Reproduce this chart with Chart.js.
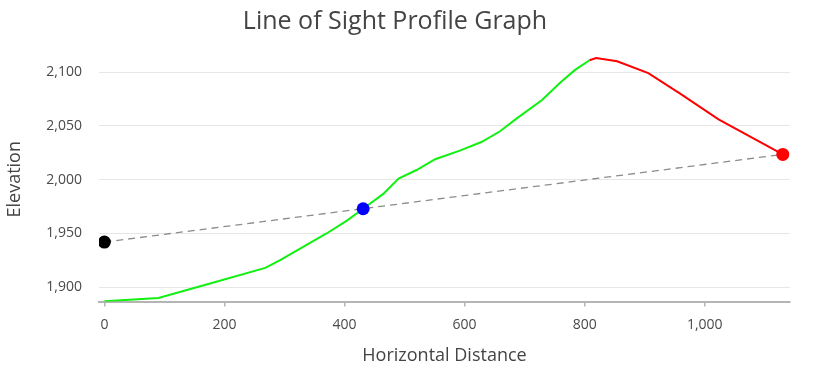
<!DOCTYPE html>
<html>
<head>
<meta charset="utf-8">
<script src="https://cdn.jsdelivr.net/npm/chart.js@4/dist/chart.umd.min.js"></script>
<style>
  html, body { margin: 0; padding: 0; background: #fff; }
  #wrap { width: 814px; height: 368px; position: relative; }
</style>
</head>
<body>
<div id="wrap"><canvas id="c"></canvas></div>
<script>
// Visible (green) part of the terrain profile
const visibleDistance  = [0, 90, 179, 268, 292, 326, 370, 404, 431, 465, 490, 520, 551, 592, 628, 659, 687, 729, 759, 784, 808];
const visibleElevation = [1887, 1890, 1904, 1918, 1925, 1936, 1950, 1962, 1973, 1987, 2001, 2009, 2019, 2027, 2035, 2045, 2057, 2074, 2090, 2102, 2111];
// Hidden (red) part of the terrain profile
const hiddenDistance  = [808, 819, 854, 906, 959, 1023, 1130];
const hiddenElevation = [2111, 2113, 2110, 2099, 2080, 2056, 2023.5];
// Observer, intersection and target
const observer = [0, 1942];
const intersection = [431, 1973];
const target = [1130, 2023.5];
const xTicks = [0, 200, 400, 600, 800, 1000];
const yTicks = [1900, 1950, 2000, 2050, 2100];

const toXY = (xs, ys) => xs.map((x, i) => ({x: x, y: ys[i]}));
const FONT = "'Open Sans', 'Noto Sans', sans-serif";

new Chart(document.getElementById('c'), {
  type: 'scatter',
  data: {
    datasets: [
      { data: [{x: observer[0], y: observer[1]}], pointRadius: 6.5, backgroundColor: '#000000', borderWidth: 0, pointHoverRadius: 6.5 },
      { data: [{x: intersection[0], y: intersection[1]}], pointRadius: 6.5, backgroundColor: '#0000ff', borderWidth: 0, pointHoverRadius: 6.5 },
      { data: [{x: target[0], y: target[1]}], pointRadius: 6.5, backgroundColor: '#ff0000', borderWidth: 0, pointHoverRadius: 6.5 },
      { data: [{x: observer[0], y: observer[1]}, {x: target[0], y: target[1]}], showLine: true, pointRadius: 0,
        borderColor: '#8c8c8c', borderWidth: 1.3, borderDash: [7, 5] },
      { data: toXY(visibleDistance, visibleElevation), showLine: true, pointRadius: 0, borderColor: '#11f011', borderWidth: 2 },
      { data: toXY(hiddenDistance, hiddenElevation), showLine: true, pointRadius: 0, borderColor: '#ff0000', borderWidth: 2 }
    ]
  },
  options: {
    responsive: true,
    maintainAspectRatio: false,
    animation: false,
    layout: { padding: { left: 0, right: 24, top: 0, bottom: 0 } },
    plugins: {
      legend: { display: false },
      tooltip: { enabled: false },
      title: {
        display: true,
        text: 'Line of Sight Profile Graph',
        color: '#444444',
        font: { family: FONT, size: 25, weight: 'normal', lineHeight: 1.2 },
        padding: { top: 7, bottom: 20 }
      }
    },
    scales: {
      x: {
        type: 'linear',
        min: -9,
        max: 1142,
        afterBuildTicks: (s) => { s.ticks = xTicks.map(v => ({value: v})); },
        afterFit: (s) => { s.height = 66.5; },
        ticks: { color: '#4a4a4a', font: { family: FONT, size: 14 }, padding: 10, maxRotation: 0,
                 callback: (v) => v.toLocaleString('en-US') },
        grid: { drawOnChartArea: false, drawTicks: true, tickLength: 5, color: '#b4b4b4', lineWidth: 1.5 },
        border: { display: true, color: '#b4b4b4', width: 2 },
        title: { display: true, text: 'Horizontal Distance', color: '#444444',
                 font: { family: FONT, size: 18 }, padding: { top: 0, bottom: 1 } }
      },
      y: {
        type: 'linear',
        min: 1886.8,
        max: 2114,
        afterBuildTicks: (s) => { s.ticks = yTicks.map(v => ({value: v})); },
        afterFit: (s) => { s.width = 99; },
        ticks: { color: '#4a4a4a', font: { family: FONT, size: 14 }, padding: 17,
                 callback: (v) => v.toLocaleString('en-US') },
        grid: { drawTicks: false, color: '#e6e6e6', lineWidth: 1 },
        border: { display: false },
        title: { display: true, text: 'Elevation', color: '#444444',
                 font: { family: FONT, size: 18 }, padding: { top: 4, bottom: 0 } }
      }
    }
  }
});
</script>
</body>
</html>
